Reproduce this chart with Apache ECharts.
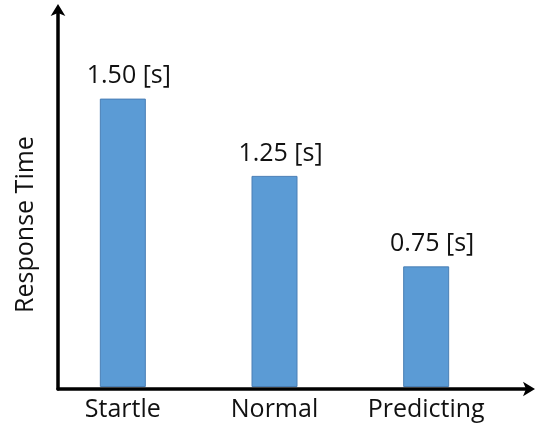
<!DOCTYPE html>
<html><head><meta charset="utf-8">
<script src="https://cdn.jsdelivr.net/npm/echarts@6/dist/echarts.min.js"></script>
<style>html,body{margin:0;padding:0;background:#fff}#c{width:537px;height:424px}</style>
</head><body><div id="c"></div>
<script>
const categories = ['Startle', 'Normal', 'Predicting'];
const responseTimes = [1.50, 1.25, 0.75];          // values printed above bars (seconds)
const drawnHeights = [1.53, 1.12, 0.64];           // bar heights as drawn in the schematic
const valueLabels = ['1.50 [s]', '1.25 [s]', '0.75 [s]'];
const yAxisName = 'Response Time';

const FONT = '"Open Sans", sans-serif';
const chart = echarts.init(document.getElementById('c'), null, {renderer: 'canvas'});
chart.setOption({
  animation: false,
  backgroundColor: '#fff',
  grid: [
    {left: 58, right: 8, top: 10, bottom: 35},
    {left: 47, width: 455, top: 10, bottom: 37}
  ],
  xAxis: [
    {type: 'value', gridIndex: 0, min: 0, max: 1,
     axisLine: {show: true, lineStyle: {color: '#000', width: 3.5}, symbol: ['none', 'arrow'], symbolSize: [11, 12], symbolOffset: [0, 6]},
     axisTick: {show: false}, axisLabel: {show: false}, splitLine: {show: false}},
    {type: 'category', gridIndex: 1, data: categories,
     axisLine: {show: false}, axisTick: {show: false},
     axisLabel: {interval: 0, hideOverlap: false, color: '#111', fontFamily: FONT, fontSize: 25, margin: 10}}
  ],
  yAxis: [
    {type: 'value', gridIndex: 0, min: 0, max: 2,
     name: yAxisName, nameLocation: 'middle', nameGap: 20,
     nameTextStyle: {color: '#111', fontFamily: FONT, fontSize: 25, padding: [0, 50, 0, 0]},
     axisLine: {show: true, lineStyle: {color: '#000', width: 3.5}, symbol: ['none', 'arrow'], symbolSize: [11, 12], symbolOffset: [0, 6]},
     axisTick: {show: false}, axisLabel: {show: false}, splitLine: {show: false}},
    {type: 'value', gridIndex: 1, min: 0, max: 2, show: false}
  ],
  series: [{
    type: 'bar', xAxisIndex: 1, yAxisIndex: 1,
    data: drawnHeights, barWidth: 46,
    itemStyle: {color: '#5B9BD5', borderColor: '#4A7FB5', borderWidth: 1},
    label: {show: true, position: 'top', distance: 10, offset: [6, 0], color: '#111', fontFamily: FONT, fontSize: 25,
      formatter: p => valueLabels[p.dataIndex]}
  }]
});
</script></body></html>
